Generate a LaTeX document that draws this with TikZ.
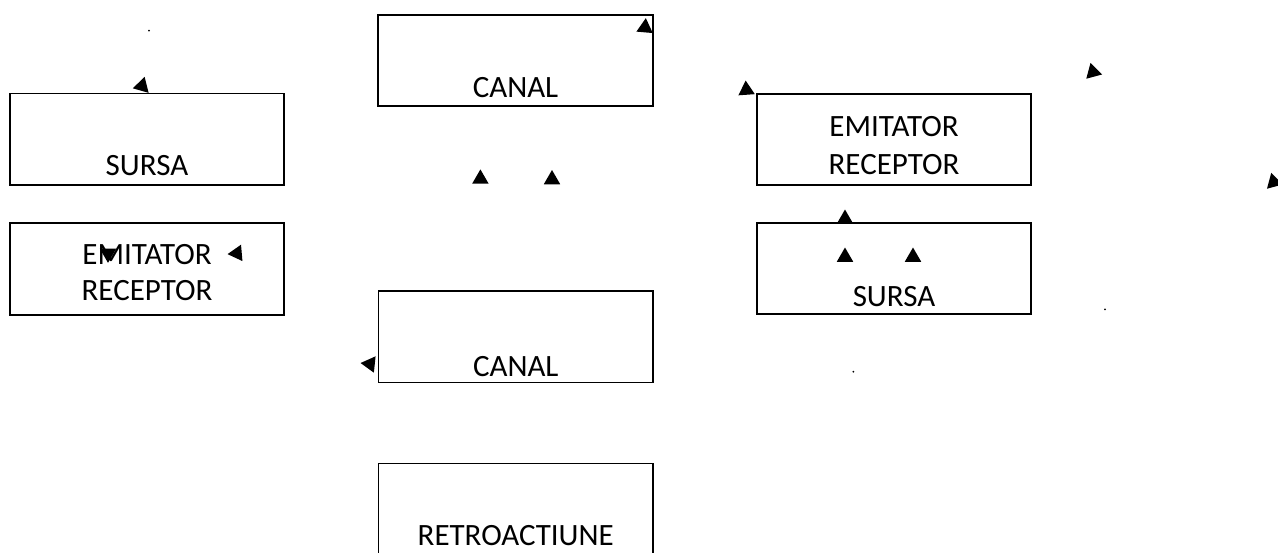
\documentclass[tikz,border=0pt]{standalone}
\usepackage{fontspec}
\setmainfont{Carlito}
\usetikzlibrary{shapes.geometric}
\begin{document}
\begin{tikzpicture}[x=1pt,y=-1pt,
  box/.style={draw, line width=1.8pt, rectangle, inner sep=0pt, minimum width=274.5pt, minimum height=91.5pt},
  boxthick/.style={box, line width=2.4pt},
  lbl/.style={anchor=base, inner sep=0pt, font=\fontsize{31}{37}\selectfont},
  tri/.style={regular polygon, regular polygon sides=3, fill=black, inner sep=0pt, minimum size=19pt},
  spot/.style={circle, fill=black, inner sep=0pt, minimum size=2pt}]
\clip (0,0) rectangle (1278,552);
\fill[white] (0,0) rectangle (1278,552);
% boxes
\node[box] (sursaL) at (147,139.25) {};
\node[box] (emitL) at (147,269) {};
\node[boxthick] (canalT) at (515.5,60.5) {};
\node[box] (emitR) at (894,139.5) {};
\node[box] (sursaR) at (894,268.5) {};
\node[box] (canalM) at (515.75,336.75) {};
\node[box] (retro) at (515.75,509.25) {};
% labels
\node[lbl] (tSursaL) at (147,175) {SURSA};
\node[lbl] (tEmitL) at (147,264) {EMITATOR};
\node[lbl] (tRecL) at (147,300) {RECEPTOR};
\node[lbl] (tCanalT) at (515.5,97) {CANAL};
\node[lbl] (tEmitR) at (894,136.5) {EMITATOR};
\node[lbl] (tRecR) at (894,174.5) {RECEPTOR};
\node[lbl] (tSursaR) at (894,306) {SURSA};
\node[lbl] (tCanalM) at (515.75,376.5) {CANAL};
\node[lbl] (tRetro) at (515.75,545) {RETROACTIUNE};
% stray arrowheads
\node[tri, rotate=-16] (a1) at (142,86) {};
\node[tri, rotate=-5] (a2) at (645,27.6) {};
\node[tri, rotate=4] (a3) at (746.3,90) {};
\node[tri, rotate=15] (a4) at (1093,72) {};
\node[tri, rotate=15] (a5) at (1273.7,182) {};
\node[tri] (a6) at (480.4,178.9) {};
\node[tri] (a7) at (552,179.5) {};
\node[tri, rotate=180] (a8) at (108,253.3) {};
\node[tri, rotate=95] (a9) at (237,253.3) {};
\node[tri] (a10) at (845,219) {};
\node[tri] (a11) at (845,257) {};
\node[tri] (a12) at (913,257) {};
\node[tri, rotate=84] (a13) at (370,364) {};
% dots
\node[spot] (d1) at (149,30.7) {};
\node[spot] (d2) at (1105,309.3) {};
\node[spot] (d3) at (853.3,371.7) {};
\end{tikzpicture}
\end{document}
